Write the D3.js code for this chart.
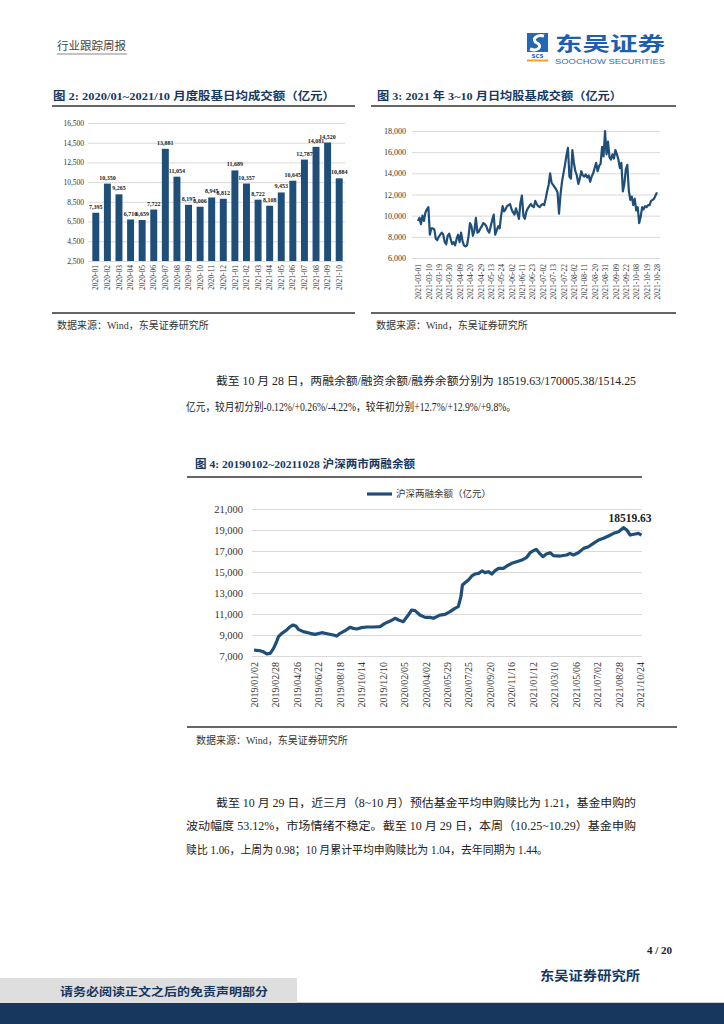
<!DOCTYPE html>
<html><head><meta charset="utf-8">
<script src="https://cdn.jsdelivr.net/npm/d3@7"></script>
<style>body{margin:0;background:#fff} svg{display:block}</style>
</head><body><svg id="page" width="724" height="1024"></svg>
<script>
// ---------- DATA ----------
const monthCats = ["2020-01","2020-02","2020-03","2020-04","2020-05","2020-06","2020-07","2020-08","2020-09","2020-10","2020-11","2020-12","2021-01","2021-02","2021-03","2021-04","2021-05","2021-06","2021-07","2021-08","2021-09","2021-10"];
const monthValues = [7395,10350,9265,6710,6659,7722,13881,11054,8197,8006,8945,8812,11689,10357,8722,8108,9453,10645,12787,14081,14520,10884];
const monthTicks = [2500,4500,6500,8500,10500,12500,14500,16500];

const dailyTickLabels = ["2021-03-01","2021-03-10","2021-03-19","2021-03-30","2021-04-09","2021-04-20","2021-04-29","2021-05-13","2021-05-24","2021-06-02","2021-06-11","2021-06-23","2021-07-02","2021-07-13","2021-07-22","2021-08-02","2021-08-11","2021-08-20","2021-08-31","2021-09-09","2021-09-22","2021-10-08","2021-10-19","2021-10-28"];
const dailyValues = [
9500,9800,9200,10000,9500,10300,10600,10800,8200,8800,
8800,8700,7800,7700,8000,8200,8400,8200,7500,7300,
8100,8300,7800,7300,7500,7200,7800,8200,7500,8400,
7600,7200,7100,7200,8000,9300,9000,8100,8600,9800,
8400,8500,8800,9000,9300,9200,9000,8600,8400,9000,
9600,10100,8200,8600,9000,8800,10000,10900,10400,10600,
10900,11000,11100,10600,10300,10100,10700,10200,9700,11200,
11900,10000,9700,10400,10700,10900,11100,10900,10800,11400,
11100,10900,10800,11000,11100,11000,11600,12300,12900,14000,
13100,12900,12700,12500,12200,10200,12000,13200,14000,14800,
15700,16400,13700,13500,16200,15000,14200,13800,13000,13500,
14200,13800,13700,13900,13600,13800,13200,13700,14000,14500,
15000,14200,14700,14900,16500,15600,18000,15800,17000,15500,
15300,15800,15400,16200,15800,15300,14500,15000,12300,13000,
14400,14800,12400,11500,11800,11000,11600,10500,10800,9300,
9900,10800,10600,10900,10800,11000,11000,11400,11500,11600,
11900,12200];
const dailyTicks = [6000,8000,10000,12000,14000,16000,18000];

const marginDates = ["2019/01/02","2019/01/18","2019/01/27","2019/02/05","2019/02/14","2019/02/23","2019/03/03","2019/03/08","2019/03/17","2019/03/30","2019/04/08","2019/04/16","2019/04/23","2019/04/30","2019/05/13","2019/05/31","2019/06/13","2019/07/01","2019/07/19","2019/08/01","2019/08/10","2019/08/19","2019/09/01","2019/09/14","2019/09/23","2019/10/02","2019/10/15","2019/10/29","2019/11/15","2019/12/03","2019/12/16","2019/12/30","2020/01/12","2020/01/21","2020/02/03","2020/02/16","2020/02/25","2020/03/05","2020/03/18","2020/04/01","2020/04/14","2020/04/23","2020/05/02","2020/05/10","2020/05/24","2020/06/06","2020/06/19","2020/06/28","2020/07/05","2020/07/09","2020/07/16","2020/07/25","2020/08/03","2020/08/12","2020/08/21","2020/08/30","2020/09/07","2020/09/16","2020/09/25","2020/10/04","2020/10/13","2020/10/26","2020/11/04","2020/11/17","2020/11/30","2020/12/14","2020/12/27","2021/01/05","2021/01/14","2021/01/21","2021/01/30","2021/02/08","2021/02/17","2021/02/27","2021/03/08","2021/03/26","2021/04/12","2021/04/21","2021/04/30","2021/05/13","2021/05/27","2021/06/09","2021/06/22","2021/07/06","2021/07/19","2021/08/01","2021/08/15","2021/08/28","2021/09/10","2021/09/19","2021/09/28","2021/10/11","2021/10/20","2021/10/28"];
const marginValues = [7570,7500,7400,7200,7250,7730,8360,8840,9160,9480,9800,9950,9860,9540,9320,9160,9060,9220,9100,9000,8900,9160,9410,9730,9630,9570,9700,9760,9760,9800,10110,10330,10590,10430,10270,10900,11380,11320,10900,10680,10680,10590,10750,10900,10970,11220,11540,11700,12650,13760,13980,14240,14620,14810,14870,15100,14940,15030,14810,15130,15350,15350,15570,15830,15980,16140,16400,16840,17030,17160,16780,16460,16710,16840,16560,16520,16620,16780,16620,16840,17250,17410,17730,18050,18210,18430,18680,18840,19220,19000,18520,18620,18680,18519.63];
const marginTicks = [7000,9000,11000,13000,15000,17000,19000,21000];
const marginTickDates = ["2019/01/02","2019/02/28","2019/04/26","2019/06/22","2019/08/18","2019/10/14","2019/12/10","2020/02/05","2020/04/02","2020/05/29","2020/07/25","2020/09/20","2020/11/16","2021/01/12","2021/03/10","2021/05/06","2021/07/02","2021/08/28","2021/10/24"];

// ---------- STYLE ----------
const SERIF = "'Liberation Serif','Times New Roman','Noto Sans CJK SC',serif";
const CJK = "'Liberation Serif','Noto Sans CJK SC',sans-serif";
const BLUE = "#1f4e79";
const NAVY = "#17375e";
const GRID = "#d9d9d9";
const svg = d3.select("#page");
const fmt = d3.format(",");

function txt(x, y, s, o = {}) {
  const t = svg.append("text").attr("x", x).attr("y", y).text(s)
    .attr("font-family", o.family || CJK).attr("font-size", o.size || 11)
    .attr("fill", o.fill || "#222").attr("font-weight", o.weight || "normal")
    .attr("text-anchor", o.anchor || "start").attr("dominant-baseline", "central");
  if (o.len) t.attr("textLength", o.len).attr("lengthAdjust", "spacingAndGlyphs");
  return t;
}
function hline(x1, x2, y, c, w) {
  svg.append("line").attr("x1", x1).attr("x2", x2).attr("y1", y).attr("y2", y)
    .attr("stroke", c).attr("stroke-width", w);
}

// ---------- HEADER ----------
txt(57, 46, "行业跟踪周报", {size: 11.5, fill: "#444"});
hline(57, 127, 54, "#8a8a8a", 1.2);
// logo
const logo = svg.append("g");
logo.append("rect").attr("x", 527).attr("y", 33).attr("width", 21).attr("height", 19).attr("fill", "#2467b3");
logo.append("path").attr("d", "M544,36 C536,34 531,40 537,43 C543,46 538,52 530,49").attr("fill", "none").attr("stroke", "#fff").attr("stroke-width", 3);
logo.append("text").attr("x", 537.5).attr("y", 57.5).attr("text-anchor", "middle").attr("font-family", "DejaVu Sans").attr("font-weight", "bold").attr("font-size", 5.5).attr("fill", "#2467b3").text("SCS");
logo.append("rect").attr("x", 527).attr("y", 59.5).attr("width", 21).attr("height", 2).attr("fill", "#f0a030");
txt(555, 42, "东吴证券", {family: "'Noto Sans CJK SC'", size: 19.5, weight: "bold", fill: "#1c5fae", len: 110});
txt(555, 61, "SOOCHOW SECURITIES", {family: "'Liberation Sans',Arial", size: 7.5, fill: "#2e6db4", len: 110});

// ---------- CHART 2: monthly bars ----------
txt(53, 96, "图 2: 2020/01~2021/10 月度股基日均成交额（亿元）", {size: 11, weight: "bold", fill: NAVY, len: 282});
hline(52, 355, 106, "#333", 1.5);
const x2 = d3.scaleBand().domain(monthCats).range([90, 345]).paddingInner(0.4).paddingOuter(0.2);
const y2 = d3.scaleLinear().domain([2500, 16500]).range([261, 123]);
const g2 = svg.append("g");
g2.append("g").attr("transform", "translate(88,0)")
  .call(d3.axisLeft(y2).tickValues(monthTicks).tickSize(-257).tickFormat(fmt))
  .call(g => { g.select(".domain").remove();
    g.selectAll("line").attr("stroke", GRID);
    g.selectAll("text").attr("x", -4).attr("font-family", SERIF).attr("font-size", 7.5).attr("fill", "#333"); });
g2.selectAll("rect.bar").data(monthValues).join("rect").attr("class", "bar")
  .attr("x", (d, i) => x2(monthCats[i])).attr("width", x2.bandwidth())
  .attr("y", d => y2(d)).attr("height", d => y2(2500) - y2(d)).attr("fill", BLUE);
g2.selectAll("text.lbl").data(monthValues).join("text").attr("class", "lbl")
  .attr("x", (d, i) => x2(monthCats[i]) + x2.bandwidth() / 2).attr("y", d => y2(d) - 4)
  .attr("text-anchor", "middle").attr("font-family", SERIF).attr("font-weight", "bold")
  .attr("font-size", 6).attr("fill", "#222").text(d => fmt(d));
g2.append("g").attr("transform", "translate(0,261)")
  .call(d3.axisBottom(x2).tickSize(0).tickPadding(0))
  .call(g => { g.select(".domain").remove();
    g.selectAll("text").attr("transform", "rotate(-90)").attr("text-anchor", "end")
      .attr("x", -4).attr("y", 0).attr("dy", "0.35em")
      .attr("font-family", SERIF).attr("font-size", 7.5).attr("fill", "#333"); });
hline(52, 355, 313, "#333", 1.5);
txt(57, 325, "数据来源：Wind，东吴证券研究所", {size: 10, fill: "#333"});

// ---------- CHART 3: daily line ----------
txt(377, 96, "图 3: 2021 年 3~10 月日均股基成交额（亿元）", {size: 11, weight: "bold", fill: NAVY, len: 245});
hline(371, 676, 106, "#333", 1.5);
const x3 = d3.scaleLinear().domain([0, dailyValues.length - 1]).range([418, 657]);
const y3 = d3.scaleLinear().domain([6000, 18000]).range([258, 131]);
const g3 = svg.append("g");
g3.append("g").attr("transform", "translate(412,0)")
  .call(d3.axisLeft(y3).tickValues(dailyTicks).tickSize(-248).tickFormat(fmt))
  .call(g => { g.select(".domain").remove();
    g.selectAll("line").attr("stroke", GRID);
    g.selectAll("text").attr("x", -6).attr("font-family", SERIF).attr("font-size", 8).attr("fill", "#333"); });
g3.append("path").datum(dailyValues)
  .attr("d", d3.line().x((d, i) => x3(i)).y(d => y3(d)))
  .attr("fill", "none").attr("stroke", BLUE).attr("stroke-width", 2.2).attr("stroke-linejoin", "round");
g3.append("g").attr("transform", "translate(0,262)")
  .call(d3.axisBottom(x3).tickValues(dailyTickLabels.map((d, i) => i * 7)).tickSize(0).tickPadding(0)
    .tickFormat((d, i) => dailyTickLabels[i]))
  .call(g => { g.select(".domain").remove();
    g.selectAll("text").attr("transform", "rotate(-90)").attr("text-anchor", "end")
      .attr("x", -2).attr("y", 0).attr("dy", "0.35em")
      .attr("font-family", SERIF).attr("font-size", 7.6).attr("fill", "#333"); });
hline(371, 676, 313, "#333", 1.5);
txt(376, 325, "数据来源：Wind，东吴证券研究所", {size: 10, fill: "#333"});

// ---------- PARAGRAPH 1 ----------
txt(216, 381, "截至 10 月 28 日，两融余额/融资余额/融券余额分别为 18519.63/170005.38/1514.25", {size: 11.5, len: 420});
txt(186, 407, "亿元，较月初分别-0.12%/+0.26%/-4.22%，较年初分别+12.7%/+12.9%/+9.8%。", {size: 11.5, len: 330});

// ---------- CHART 4: margin balance ----------
txt(195, 464, "图 4: 20190102~20211028 沪深两市两融余额", {size: 11, weight: "bold", fill: NAVY, len: 220});
hline(187, 642, 477, "#333", 1.5);
const parse = d3.timeParse("%Y/%m/%d");
const x4 = d3.scaleTime().domain([parse(marginTickDates[0]), parse(marginTickDates[marginTickDates.length - 1])]).range([254, 640]);
const y4 = d3.scaleLinear().domain([7000, 21000]).range([656, 509]);
const g4 = svg.append("g");
g4.append("g").attr("transform", "translate(252,0)")
  .call(d3.axisLeft(y4).tickValues(marginTicks).tickSize(-390).tickFormat(fmt))
  .call(g => { g.select(".domain").remove();
    g.selectAll("line").attr("stroke", GRID);
    g.selectAll("text").attr("x", -9).attr("font-family", SERIF).attr("font-size", 10.5).attr("fill", "#333"); });
g4.append("path").datum(marginValues)
  .attr("d", d3.line().x((d, i) => x4(parse(marginDates[i]))).y(d => y4(d)))
  .attr("fill", "none").attr("stroke", BLUE).attr("stroke-width", 3.2).attr("stroke-linejoin", "round");
g4.append("g").attr("transform", "translate(0,660)")
  .call(d3.axisBottom(x4).tickValues(marginTickDates.map(parse)).tickSize(0).tickPadding(0)
    .tickFormat(d3.timeFormat("%Y/%m/%d")))
  .call(g => { g.select(".domain").remove();
    g.selectAll("text").attr("transform", "rotate(-90)").attr("text-anchor", "end")
      .attr("x", -2).attr("y", 0).attr("dy", "0.35em")
      .attr("font-family", SERIF).attr("font-size", 10).attr("fill", "#333"); });
txt(630, 518, "18519.63", {family: SERIF, size: 11.5, weight: "bold", anchor: "middle"});
// legend
hline(367, 392, 494, BLUE, 3.2);
txt(396, 494, "沪深两融余额（亿元）", {size: 9.5, fill: "#333"});
hline(187, 677, 727, "#333", 1.5);
txt(196, 740, "数据来源：Wind，东吴证券研究所", {size: 10, fill: "#333"});

// ---------- PARAGRAPH 2 ----------
txt(216, 803, "截至 10 月 29 日，近三月（8~10 月）预估基金平均申购赎比为 1.21，基金申购的", {size: 11.5, len: 420});
txt(186, 826, "波动幅度 53.12%，市场情绪不稳定。截至 10 月 29 日，本周（10.25~10.29）基金申购", {size: 11.5, len: 450});
txt(186, 850, "赎比 1.06，上周为 0.98；10 月累计平均申购赎比为 1.04，去年同期为 1.44。", {size: 11.5, len: 362});

// ---------- FOOTER ----------
txt(672, 950, "4 / 20", {family: SERIF, size: 11, weight: "bold", anchor: "end"});
txt(640, 975, "东吴证券研究所", {size: 13, weight: "bold", fill: NAVY, anchor: "end", len: 100});
svg.append("rect").attr("x", 0).attr("y", 978).attr("width", 297).attr("height", 26).attr("fill", "#dedede");
txt(60, 992, "请务必阅读正文之后的免责声明部分", {size: 11.5, weight: "bold", fill: NAVY, len: 208});
svg.append("rect").attr("x", 0).attr("y", 1003).attr("width", 724).attr("height", 21).attr("fill", NAVY);
hline(297, 724, 1002.5, "#c8c8c8", 1);
</script></body></html>
